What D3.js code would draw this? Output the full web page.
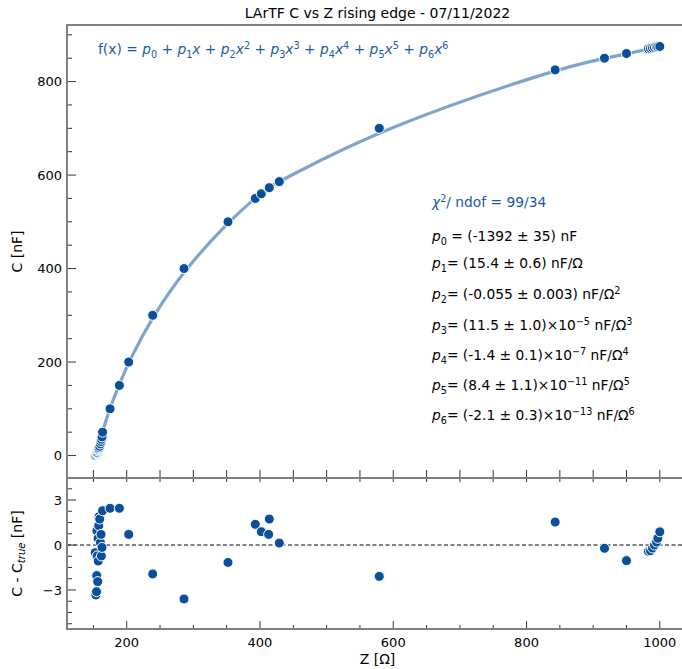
<!DOCTYPE html>
<html>
<head>
<meta charset="utf-8">
<script src="https://cdn.jsdelivr.net/npm/d3@7"></script>
<style>
  html, body { margin: 0; padding: 0; background: #fff; }
  svg { display: block; font-family: "DejaVu Sans", sans-serif; }
</style>
</head>
<body>
<svg id="chart" width="682" height="669"></svg>
<script>
// Measured impedance Z [Ω], true capacitance C_true [nF] and fit residual C - C_true [nF]
const impedance = [
  152.7, 153.7, 154.7, 155.0, 155.3, 155.6, 156.5, 157.0, 157.3, 158.0, 158.5,
  159.5, 160.5, 161.5, 162.0, 163.0, 163.8,
  175, 189, 203, 239, 286, 352, 393, 402, 413, 414, 429, 579, 843, 917, 950,
  983, 986, 989, 992, 995, 997, 1000
];
const capacitance = [
  0, 2, 4, 5, 6, 7, 10, 12, 13, 15, 17,
  20, 25, 30, 35, 40, 50,
  100, 150, 200, 300, 400, 500, 550, 560, 572, 573, 586, 700, 825, 850, 860,
  870, 871, 872, 873, 874, 874.5, 875
];
const residual = [
  -0.51, -3.33, -3.11, -2.04, 0.95, -0.73, -2.44, 0.44, -1.07, 1.29, 1.89,
  1.73, 0.16, 0.71, -0.73, -0.16, 2.29,
  2.45, 2.45, 0.71, -1.93, -3.6, -1.16, 1.38, 0.89, 0.71, 1.73, 0.13, -2.09, 1.53, -0.22, -1.04,
  -0.42, -0.38, -0.2, 0.0, 0.2, 0.45, 0.88
];

const xTicks = [200, 400, 600, 800, 1000];
const cTicks = [0, 200, 400, 600, 800];
const resTicks = [-3, 0, 3];

const titleText = "LArTF C vs Z rising edge - 07/11/2022";

const points = impedance.map((z, i) => ({ z, c: capacitance[i], r: residual[i] }));

const svg = d3.select("#chart");
const left = 67, right = 688;
const mainTop = 25, mainBottom = 478;
const resTop = 478, resBottom = 629;

const pointColor = "#0a4f9a";
const curveColor = "#7fa5cf";
const textBlue = "#1a5aa5";
const spineColor = "#808080";
const tickColor = "#333";

const x = d3.scaleLinear().domain([110.4, 1042.3]).range([left, right]);
const yMain = d3.scaleLinear().domain([-48, 921]).range([mainBottom, mainTop]);
const yRes = d3.scaleLinear().domain([-5.6, 4.47]).range([resBottom, resTop]);

function range(a, b, s) { const out = []; for (let v = a; v <= b + 1e-9; v += s) out.push(+v.toFixed(6)); return out; }

// ---------- ticks ----------
function xTickMarks(g, yPos, dir, majorLen, minorLen) {
  const minors = range(150, 1000, 50).filter(v => !xTicks.includes(v));
  g.selectAll(null).data(minors).enter().append("line")
    .attr("x1", d => x(d)).attr("x2", d => x(d))
    .attr("y1", yPos).attr("y2", yPos + dir * minorLen)
    .attr("stroke", tickColor).attr("stroke-width", 1);
  g.selectAll(null).data(xTicks).enter().append("line")
    .attr("x1", d => x(d)).attr("x2", d => x(d))
    .attr("y1", yPos).attr("y2", yPos + dir * majorLen)
    .attr("stroke", tickColor).attr("stroke-width", 1);
}

function yTickMarks(g, scale, majors, minors) {
  g.selectAll(null).data(minors).enter().append("line")
    .attr("x1", left).attr("x2", left + 5)
    .attr("y1", d => scale(d)).attr("y2", d => scale(d))
    .attr("stroke", tickColor).attr("stroke-width", 1);
  g.selectAll(null).data(majors).enter().append("line")
    .attr("x1", left).attr("x2", left + 9)
    .attr("y1", d => scale(d)).attr("y2", d => scale(d))
    .attr("stroke", tickColor).attr("stroke-width", 1);
  g.selectAll(null).data(majors).enter().append("text")
    .attr("x", left - 5).attr("y", d => scale(d) + 4.5)
    .attr("text-anchor", "end").attr("font-size", 13).attr("fill", "#000")
    .text(d => d < 0 ? "\u2212" + Math.abs(d) : d);
}

// ---------- main panel ----------
const gMain = svg.append("g");
const clipMain = svg.append("clipPath").attr("id", "clipMain");
clipMain.append("rect").attr("x", left).attr("y", mainTop).attr("width", right - left).attr("height", mainBottom - mainTop);

const fitLine = d3.line()
  .x(d => x(d.z))
  .y(d => yMain(d.c + d.r))
  .curve(d3.curveBasis);

gMain.append("path")
  .datum(points)
  .attr("d", fitLine)
  .attr("fill", "none")
  .attr("stroke", curveColor)
  .attr("stroke-width", 3.2)
  .attr("clip-path", "url(#clipMain)");

gMain.selectAll("circle.pt").data(points).enter().append("circle")
  .attr("class", "pt")
  .attr("cx", d => x(d.z)).attr("cy", d => yMain(d.c))
  .attr("r", 5)
  .attr("fill", pointColor).attr("stroke", "#fff").attr("stroke-width", 1);

yTickMarks(gMain, yMain, cTicks, range(-0, 900, 50).filter(v => !cTicks.includes(v)));
xTickMarks(gMain, mainBottom, -1, 8, 8);

gMain.append("rect")
  .attr("x", left).attr("y", mainTop)
  .attr("width", right - left).attr("height", mainBottom - mainTop)
  .attr("fill", "none").attr("stroke", spineColor).attr("stroke-width", 2);

// ---------- residual panel ----------
const gRes = svg.append("g");

gRes.append("line")
  .attr("x1", left).attr("x2", right)
  .attr("y1", yRes(0)).attr("y2", yRes(0))
  .attr("stroke", "#000").attr("stroke-width", 1)
  .attr("stroke-dasharray", "4,2.5");

gRes.selectAll("circle.res").data(points).enter().append("circle")
  .attr("class", "res")
  .attr("cx", d => x(d.z)).attr("cy", d => yRes(d.r))
  .attr("r", 5)
  .attr("fill", pointColor).attr("stroke", "#fff").attr("stroke-width", 1);

yTickMarks(gRes, yRes, resTicks, range(-5.25, 4.5, 0.75).filter(v => !resTicks.includes(v)));
xTickMarks(gRes, resBottom, -1, 8, 4);
xTickMarks(gRes, resTop, 1, 4, 4);

gRes.append("rect")
  .attr("x", left).attr("y", resTop)
  .attr("width", right - left).attr("height", resBottom - resTop)
  .attr("fill", "none").attr("stroke", spineColor).attr("stroke-width", 2);

gRes.selectAll(null).data(xTicks).enter().append("text")
  .attr("x", d => x(d)).attr("y", resBottom + 18)
  .attr("text-anchor", "middle").attr("font-size", 13).attr("fill", "#000")
  .text(d => d);

// ---------- labels ----------
svg.append("text")
  .attr("x", (left + right) / 2).attr("y", 18)
  .attr("text-anchor", "middle").attr("font-size", 14).attr("fill", "#000")
  .text(titleText);

svg.append("text")
  .attr("x", (left + right) / 2).attr("y", 664)
  .attr("text-anchor", "middle").attr("font-size", 14).attr("fill", "#000")
  .text("Z [\u03A9]");

svg.append("text")
  .attr("transform", `translate(22,${(mainTop + mainBottom) / 2}) rotate(-90)`)
  .attr("text-anchor", "middle").attr("font-size", 14).attr("fill", "#000")
  .text("C [nF]");

const resLabel = svg.append("text")
  .attr("transform", `translate(22,${(resTop + resBottom) / 2}) rotate(-90)`)
  .attr("text-anchor", "middle").attr("font-size", 14).attr("fill", "#000");
resLabel.append("tspan").text("C - C");
resLabel.append("tspan").attr("font-style", "italic").attr("font-size", 10).attr("dy", 3).text("true");
resLabel.append("tspan").attr("dy", -3).text(" [nF]");

// Rich text helper: parts are [text, kind] with kind in n, i, sub, sup
function rich(x0, y0, parts, color, size) {
  const t = svg.append("text").attr("x", x0).attr("y", y0)
    .attr("font-size", size).attr("fill", color);
  let shift = 0;
  parts.forEach(([s, k]) => {
    const sp = t.append("tspan").text(s);
    let target = 0;
    if (k === "i") sp.attr("font-style", "italic");
    if (k === "sub") { target = 3.5; sp.attr("font-size", size * 0.7); }
    if (k === "sup") { target = -5.5; sp.attr("font-size", size * 0.7); }
    if (target !== shift) { sp.attr("dy", target - shift); shift = target; }
  });
  return t;
}

// model formula
const formula = [["f(x) = ", "n"], ["p", "i"], ["0", "sub"], [" + ", "n"], ["p", "i"], ["1", "sub"], ["x", "i"]];
for (let k = 2; k <= 6; k++) {
  formula.push([" + ", "n"], ["p", "i"], [String(k), "sub"], ["x", "i"], [String(k), "sup"]);
}
rich(98, 54, formula, textBlue, 13.8);

// fit statistics
const sx = 432;
rich(sx, 207, [["\u03C7", "i"], ["2", "sup"], ["/ ndof = 99/34", "n"]], textBlue, 13.8);

const paramLines = [
  [["p", "i"], ["0", "sub"], [" = (-1392 \u00B1 35) nF", "n"]],
  [["p", "i"], ["1", "sub"], ["= (15.4 \u00B1 0.6) nF/\u03A9", "n"]],
  [["p", "i"], ["2", "sub"], ["= (-0.055 \u00B1 0.003) nF/\u03A9", "n"], ["2", "sup"]],
  [["p", "i"], ["3", "sub"], ["= (11.5 \u00B1 1.0)\u00D710", "n"], ["\u22125", "sup"], [" nF/\u03A9", "n"], ["3", "sup"]],
  [["p", "i"], ["4", "sub"], ["= (-1.4 \u00B1 0.1)\u00D710", "n"], ["\u22127", "sup"], [" nF/\u03A9", "n"], ["4", "sup"]],
  [["p", "i"], ["5", "sub"], ["= (8.4 \u00B1 1.1)\u00D710", "n"], ["\u221211", "sup"], [" nF/\u03A9", "n"], ["5", "sup"]],
  [["p", "i"], ["6", "sub"], ["= (-2.1 \u00B1 0.3)\u00D710", "n"], ["\u221213", "sup"], [" nF/\u03A9", "n"], ["6", "sup"]]
];
const paramY = [241, 268, 299, 330, 360, 390, 420];
paramLines.forEach((p, i) => rich(sx, paramY[i], p, "#000", 13.8));
</script>
</body>
</html>
